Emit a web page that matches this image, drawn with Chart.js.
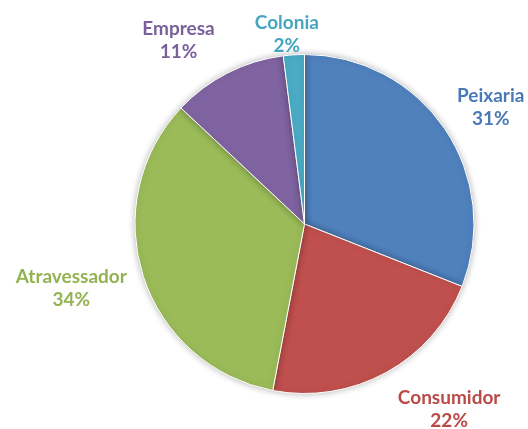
<!DOCTYPE html>
<html>
<head>
<meta charset="utf-8">
<script src="https://cdn.jsdelivr.net/npm/chart.js@4/dist/chart.umd.min.js"></script>
<style>
    html, body { margin: 0; padding: 0; background: #ffffff; }
    #wrap { width: 528px; height: 429px; position: relative; }
</style>
</head>
<body>
<div id="wrap"><canvas id="pieChart"></canvas></div>
<script>
// Slices in clockwise order starting at 12 o'clock
const categories = ['Peixaria', 'Consumidor', 'Atravessador', 'Empresa', 'Colonia'];
const shares = [31, 22, 34, 11, 2];
const sliceColors = ['#4F81BD', '#C0504D', '#9BBB59', '#8064A2', '#4BACC6'];
const labelColors = ['#4A7AB5', '#BA4A47', '#93B353', '#7A5F9C', '#46A6C0'];

// Nudge of each label away from the outer middle of its slice
const labelNudge = [[46, -21], [63, 37], [-72, 12], [-49, -33], [-7, -20]];

// Soft shadow behind the pie
const pieShadow = {
    id: 'pieShadow',
    beforeDatasetsDraw(chart) {
        const ctx = chart.ctx;
        ctx.save();
        ctx.shadowColor = 'rgba(0, 0, 0, 0.28)';
        ctx.shadowBlur = 7;
        ctx.shadowOffsetX = 0;
        ctx.shadowOffsetY = 0;
    },
    afterDatasetsDraw(chart) {
        chart.ctx.restore();
    }
};

// Category name and percentage drawn outside each slice
const outsideLabels = {
    id: 'outsideLabels',
    afterDraw(chart) {
        const ctx = chart.ctx;
        const meta = chart.getDatasetMeta(0);
        const total = shares.reduce((a, b) => a + b, 0);
        ctx.save();
        ctx.font = 'bold 19px Lato';
        ctx.textAlign = 'center';
        ctx.textBaseline = 'middle';
        meta.data.forEach((arc, i) => {
            const mid = (arc.startAngle + arc.endAngle) / 2;
            const x = arc.x + Math.cos(mid) * arc.outerRadius + labelNudge[i][0];
            const y = arc.y + Math.sin(mid) * arc.outerRadius + labelNudge[i][1];
            ctx.fillStyle = labelColors[i];
            ctx.fillText(categories[i], x, y - 11.5);
            ctx.fillText(Math.round(shares[i] / total * 100) + '%', x, y + 11.5);
        });
        ctx.restore();
    }
};

const pieCtx = document.getElementById('pieChart').getContext('2d');
const pieChart = new Chart(pieCtx, {
    type: 'pie',
    data: {
        labels: categories,
        datasets: [{
            data: shares,
            backgroundColor: sliceColors,
            borderColor: '#ffffff',
            borderWidth: 1
        }]
    },
    options: {
        responsive: true,
        maintainAspectRatio: false,
        animation: false,
        layout: {
            padding: { top: 54, bottom: 35, left: 134, right: 53 }
        },
        plugins: {
            legend: { display: false },
            tooltip: { enabled: false }
        }
    },
    plugins: [pieShadow, outsideLabels]
});
</script>
</body>
</html>
